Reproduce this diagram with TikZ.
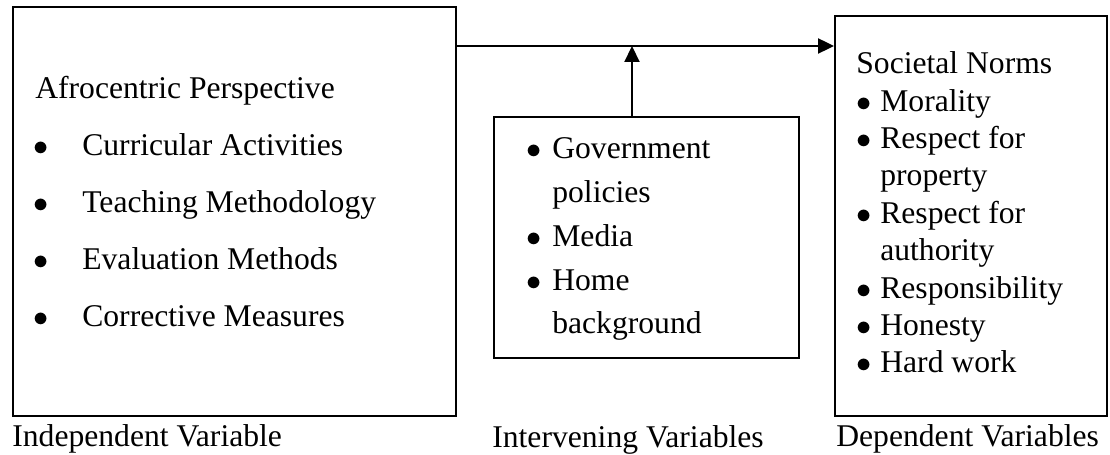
\documentclass[tikz,border=0pt]{standalone}
\usepackage{fontspec}
\setmainfont{Liberation Serif}
\usetikzlibrary{arrows.meta}
\tikzset{
  varbox/.style={draw, line width=1.1pt, inner sep=0pt},
  itemtext/.style={anchor=base west, inner sep=0pt, align=left, font=\fontsize{18}{#1}\selectfont},
  caption/.style={anchor=base west, inner sep=0pt, font=\fontsize{18}{21}\selectfont},
  flow/.style={line width=1.2pt, -{Triangle[length=0.32cm,width=0.3cm]}}
}
\newcommand{\bul}[2]{\makebox[#2][l]{\hspace*{#1}$\bullet$}}

\begin{document}
\begin{tikzpicture}[x = 0.02cm, y = -0.02cm]
\useasboundingbox (0,0) rectangle (1110,455);
% Boxes
    \node[varbox, minimum width=8.86cm, minimum height=8.18cm] (indep) at (234.5,211.5) {};
    \node[varbox, minimum width=6.1cm, minimum height=4.82cm] (interv) at (646.5,237.5) {};
    \node[varbox, minimum width=5.44cm, minimum height=8cm] (dep) at (971,216) {};
% Box contents (placed at the baseline of their last line)
    \node[itemtext=32.5pt] (indeptext) at (35,327) {Afrocentric Perspective\\
      \bul{-0.04cm}{0.94cm}Curricular Activities\\
      \bul{-0.04cm}{0.94cm}Teaching Methodology\\
      \bul{-0.04cm}{0.94cm}Evaluation Methods\\
      \bul{-0.04cm}{0.94cm}Corrective Measures};
    \node[itemtext=25pt] (intervtext) at (526,334) {\bul{0pt}{0.52cm}Government\\
      \hspace*{0.52cm}policies\\
      \bul{0pt}{0.52cm}Media\\
      \bul{0pt}{0.52cm}Home\\
      \hspace*{0.52cm}background};
    \node[itemtext=21.3pt] (deptext) at (856,373) {Societal Norms\\
      \bul{0pt}{0.48cm}Morality\\
      \bul{0pt}{0.48cm}Respect for\\
      \hspace*{0.48cm}property\\
      \bul{0pt}{0.48cm}Respect for\\
      \hspace*{0.48cm}authority\\
      \bul{0pt}{0.48cm}Responsibility\\
      \bul{0pt}{0.48cm}Honesty\\
      \bul{0pt}{0.48cm}Hard work};
% Captions
    \node[caption] (indeplabel) at (12,447) {Independent Variable};
    \node[caption] (intervlabel) at (492,448) {Intervening Variables};
    \node[caption] (deplabel) at (836,447) {Dependent Variables};
% Arrows
    \coordinate (join) at (632,46);
    \draw[flow] (indep.east |- join) -- (dep.west |- join);
    \draw[flow] (join |- interv.north) -- (join);
\end{tikzpicture}
\end{document}
